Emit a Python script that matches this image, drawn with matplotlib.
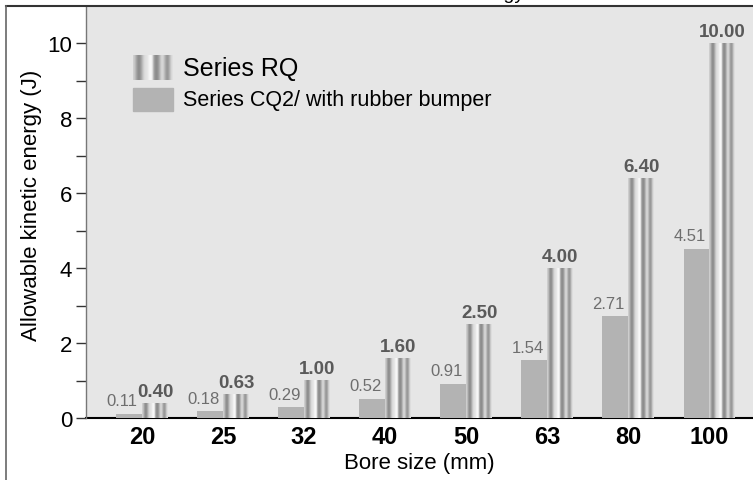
import numpy as np
import matplotlib
matplotlib.use("Agg")
import matplotlib.pyplot as plt
from matplotlib.lines import Line2D

plt.rcParams['font.family'] = ['Liberation Sans', 'DejaVu Sans']

bore_sizes = ['20', '25', '32', '40', '50', '63', '80', '100']
rq_energy = [0.40, 0.63, 1.00, 1.60, 2.50, 4.00, 6.40, 10.00]
cq2_energy = [0.11, 0.18, 0.29, 0.52, 0.91, 1.54, 2.71, 4.51]
rq_labels = ['0.40', '0.63', '1.00', '1.60', '2.50', '4.00', '6.40', '10.00']
cq2_labels = ['0.11', '0.18', '0.29', '0.52', '0.91', '1.54', '2.71', '4.51']

# metallic stripe profile for the RQ bars (two small cylinders side by side)
stripe = np.array([0.82, 0.74, 0.62, 0.55, 0.56, 0.66, 0.78, 0.86, 0.88, 0.90, 0.95, 0.98, 0.94,
                   0.66, 0.56, 0.54, 0.60, 0.72, 0.84, 0.84, 0.74, 0.62, 0.58, 0.66, 0.80, 0.88])
stripe_img = stripe[np.newaxis, :]

fig = plt.figure(figsize=(7.53, 4.81), dpi=100)
ax = fig.add_axes([86 / 753, 1 - 419 / 481, 1 - 86 / 753, (419 - 8) / 481])
ax.set_facecolor('#e6e6e6')

x = np.arange(len(bore_sizes))
w = 0.32

gray_bars = ax.bar(x - w / 2, cq2_energy, w, color='#b3b3b3', zorder=2)
rq_bars = ax.bar(x + w / 2, rq_energy, w, color='none', zorder=2)
for p in rq_bars:
    ax.imshow(stripe_img, cmap='gray', vmin=0, vmax=1, aspect='auto', interpolation='bicubic',
              extent=[p.get_x(), p.get_x() + p.get_width(), 0, p.get_height()], zorder=2)

for p, lab in zip(rq_bars, rq_labels):
    ax.annotate(lab, (p.get_x() + p.get_width() / 2, p.get_height()), xytext=(0, 2.5),
                textcoords='offset points', ha='center', va='bottom', fontsize=13.5,
                fontweight='bold', color='#5a5a5a')
for p, lab in zip(gray_bars, cq2_labels):
    ax.annotate(lab, (p.get_x() + p.get_width() / 2, p.get_height()), xytext=(-5, 4),
                textcoords='offset points', ha='center', va='bottom', fontsize=12,
                color='#6e6e6e')

ax.set_xticks(x)
ax.set_xticklabels(bore_sizes, fontsize=17, fontweight='bold')
ax.tick_params(axis='x', length=0, pad=5)
ax.set_yticks([0, 2, 4, 6, 8, 10])
ax.set_yticks([1, 3, 5, 7, 9], minor=True)
ax.tick_params(axis='y', which='both', length=7, width=1, color='#333333', labelsize=16, pad=3)

ax.set_xlabel('Bore size (mm)', fontsize=16)
ax.xaxis.set_label_coords(0.5, -0.082)
ax.set_ylabel('Allowable kinetic energy (J)', fontsize=16)
ax.yaxis.label.set_va('center')
ax.yaxis.set_label_coords(-0.082, 0.52)

for s in ['top', 'right']:
    ax.spines[s].set_visible(False)
ax.spines['left'].set_color('#777777')
ax.spines['left'].set_linewidth(1)
ax.spines['bottom'].set_color('black')
ax.spines['bottom'].set_linewidth(1.5)
ax.spines['bottom'].set_zorder(1)

# legend drawn by hand
ax.imshow(stripe_img, cmap='gray', vmin=0, vmax=1, aspect='auto',
          interpolation='bicubic', extent=[0.0705, 0.1304, 0.822, 0.881],
          transform=ax.transAxes, zorder=3)
ax.add_patch(plt.Rectangle((0.0705, 0.747), 0.0599, 0.056, color='#b3b3b3',
                           transform=ax.transAxes, zorder=3))
ax.text(0.1454, 0.851, 'Series RQ', transform=ax.transAxes, fontsize=18, va='center')
ax.text(0.1454, 0.776, 'Series CQ2/ with rubber bumper', transform=ax.transAxes,
        fontsize=15.5, va='center')
ax.set_xlim(-0.691, 7.537)
ax.set_ylim(0, 10.96)

# outer frame and the title, which sits mostly above the picture's top edge
fig.add_artist(Line2D([6 / 753, 1], [1 - 7 / 481] * 2, color='#333333', lw=1.5))
fig.add_artist(Line2D([6 / 753] * 2, [0, 1 - 7 / 481], color='#666666', lw=1.2))
fig.text(419.5 / 753, 1 + 1.5 / 481, 'Allowable kinetic energy', fontsize=14,
         ha='center', va='baseline')

fig.savefig('out.png', dpi=100)
